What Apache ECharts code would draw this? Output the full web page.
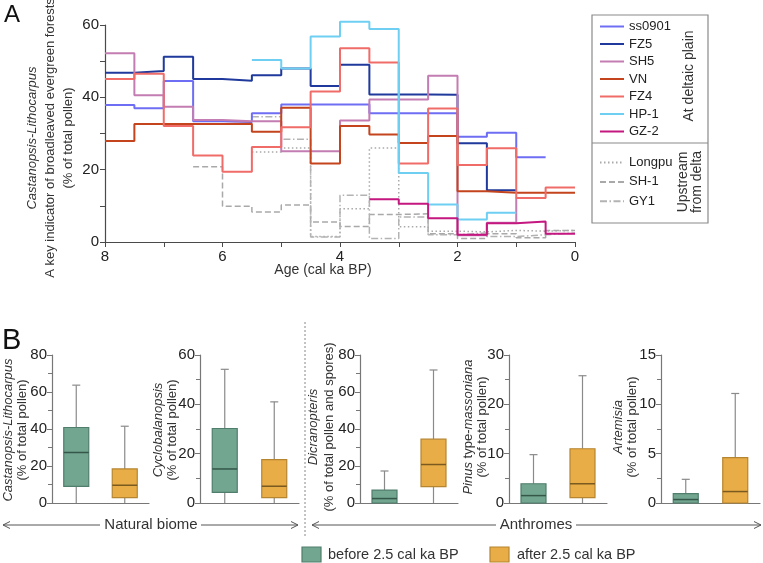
<!DOCTYPE html>
<html><head><meta charset="utf-8">
<script src="https://cdn.jsdelivr.net/npm/echarts@6/dist/echarts.min.js"></script>
<style>html,body{margin:0;padding:0;background:#fff}#c{width:763px;height:563px}</style>
</head><body><div id="c"></div>
<script>
// ---------- Panel A data (values per 0.5-ka bin, from the start age towards 0) ----------
const ageTicks = [0, 2, 4, 6, 8];
const binWidth = 0.5;
const seriesNames = ['ss0901', 'FZ5', 'SH5', 'VN', 'FZ4', 'HP-1', 'GZ-2', 'Longpu', 'SH-1', 'GY1'];
const seriesStart = [8, 8, 8, 8, 8, 5.5, 3.5, 5.5, 6.5, 5.5];
const ss0901 = [37.9, 37.0, 44.5, 33.4, 33.2, 35.6, 38.0, 38.0, 38.0, 35.6, 35.6, 35.6, 29.1, 30.2, 23.4];
const FZ5    = [46.8, 47.3, 51.2, 45.1, 44.6, 46.1, 48.0, 43.1, 49.0, 40.8, 40.8, 40.7, 27.3, 14.3];
const SH5    = [52.2, 40.6, 37.4, 33.7, 33.4, 33.4, 25.1, 25.1, 33.6, 39.4, 39.4, 46.0, 1.9, 5.3, 12.2];
const VN     = [27.9, 32.6, 32.6, 32.6, 32.7, 30.5, 37.1, 21.7, 32.1, 29.7, 27.4, 29.3, 14.0, 13.6, 13.6, 13.6];
const FZ4    = [45.1, 46.5, 32.1, 23.9, 19.4, 26.3, 31.7, 41.6, 53.6, 49.6, 21.7, 36.9, 21.3, 25.9, 12.2, 15.1];
const HP1    = [50.3, 48.0, 56.8, 60.9, 58.9, 19.1, 10.4, 6.2, 8.1];
const GZ2    = [11.8, 10.6, 6.6, 2.0, 5.2, 5.7, 2.3];
const Longpu = [24.9, 26.0, 1.5, 9.2, 26.0, 4.2, 3.0, 2.8, 3.2, 3.0, 3.2];
const SH1    = [20.8, 9.9, 8.3, 10.2, 5.5, 4.3, 7.6, 7.8, 2.3, 1.0, 2.3, 1.2, 3.2];
const GY1    = [34.6, 28.4, 1.4, 12.9, 1.0, 6.9, 2.0, 2.5, 1.5, 2.0, 2.5];
const seriesValues = [ss0901, FZ5, SH5, VN, FZ4, HP1, GZ2, Longpu, SH1, GY1];

// ---------- Panel B data: [min, Q1, median, Q3, max] ----------
const periodNames = ['before 2.5 cal ka BP', 'after 2.5 cal ka BP'];
const castanopsisBox     = [[0, 9.0, 27.3, 40.8, 63.7], [0, 2.9, 9.6, 18.4, 41.5]];
const cyclobalanopsisBox = [[0, 4.3, 13.8, 30.2, 54.2], [0, 2.2, 6.8, 17.6, 41.0]];
const dicranopterisBox   = [[0, 0, 2.4, 7.0, 17.3], [0, 8.9, 20.8, 34.5, 71.9]];
const pinusBox           = [[0, 0, 1.5, 3.9, 9.8], [0, 1.1, 3.9, 11.0, 25.8]];
const artemisiaBox       = [[0, 0, 0.35, 0.95, 2.4], [0, 0, 1.16, 4.6, 11.1]];
const boxSets = [castanopsisBox, cyclobalanopsisBox, dicranopterisBox, pinusBox, artemisiaBox];
const boxYMax = [80, 60, 80, 30, 15];
const boxYInterval = [20, 20, 20, 10, 5];

// ---------- styles ----------
const FONT = 'Arial, "Liberation Sans", Helvetica, sans-serif';
const lineColors = ['#6e6ef4', '#1f3a9c', '#c47db2', '#c3441d', '#ef6c69', '#6fcff3', '#c4177f', '#a9a9a9', '#a9a9a9', '#b3b3b3'];
const lineTypes = ['solid', 'solid', 'solid', 'solid', 'solid', 'solid', 'solid', [1.5, 2.5], [6, 3], [7, 2.5, 1.5, 2.5]];
const lineWidths = [2, 2, 2, 2, 2, 2, 2, 1.5, 1.5, 1.5];
const boxFill = ['#72a690', '#e9ad48'];
const boxStroke = ['#4f7e6c', '#b6852f'];
const boxMedian = ['#34574a', '#7a5a1e'];

function stepPoints(start, vals) {
  const pts = vals.map((v, i) => [+(start - i * binWidth).toFixed(2), v]);
  pts.push([+(start - vals.length * binWidth).toFixed(2), vals[vals.length - 1]]);
  return pts;
}

const axisCol = '#4a4a4a';
const grids = [{ left: 105, top: 25, width: 470, height: 217 }];
const xAxes = [{
  gridIndex: 0, type: 'value', min: 0, max: 8, interval: 2, inverse: true, position: 'bottom',
  axisLine: { show: true, onZero: false, lineStyle: { color: axisCol, width: 1.2 } },
  axisTick: { show: true, length: 5, lineStyle: { color: axisCol } },
  minorTick: { show: true, splitNumber: 2, length: 5, lineStyle: { color: axisCol } },
  splitLine: { show: false },
  axisLabel: { fontSize: 15, color: '#222', fontFamily: FONT, margin: 7 }
}];
const yAxes = [{
  gridIndex: 0, type: 'value', min: 0, max: 60, interval: 20, position: 'left',
  axisLine: { show: true, onZero: false, lineStyle: { color: axisCol, width: 1.2 } },
  axisTick: { show: true, length: 5, lineStyle: { color: axisCol } },
  minorTick: { show: true, splitNumber: 2, length: 5, lineStyle: { color: axisCol } },
  splitLine: { show: false },
  axisLabel: { fontSize: 15, color: '#222', fontFamily: FONT, margin: 6 }
}];

const series = seriesNames.map((name, i) => ({
  name, type: 'line', xAxisIndex: 0, yAxisIndex: 0,
  data: stepPoints(seriesStart[i], seriesValues[i]),
  step: 'end', symbol: 'none', showSymbol: false, clip: false,
  lineStyle: { color: lineColors[i], width: lineWidths[i], type: lineTypes[i] },
  itemStyle: { color: lineColors[i] },
  z: i >= 7 ? 1 : 3,
  animation: false
}));

const boxGridLeft = [52, 200, 360, 509, 661];
const boxGridWidth = [97, 99, 98, 98, 99];
boxSets.forEach((set, k) => {
  const gi = k + 1;
  grids.push({ left: boxGridLeft[k], top: 355, width: boxGridWidth[k], height: 148 });
  xAxes.push({
    gridIndex: gi, type: 'category', data: periodNames,
    axisLine: { show: true, lineStyle: { color: '#777', width: 1.2 } },
    axisTick: { show: false }, axisLabel: { show: false }, splitLine: { show: false }
  });
  yAxes.push({
    gridIndex: gi, type: 'value', min: 0, max: boxYMax[k], interval: boxYInterval[k],
    axisLine: { show: true, lineStyle: { color: '#777', width: 1.2 } },
    axisTick: { show: true, length: 5, lineStyle: { color: '#777' } },
    minorTick: { show: true, splitNumber: 2, length: 4, lineStyle: { color: '#777' } },
    splitLine: { show: false },
    axisLabel: { fontSize: 15, color: '#222', fontFamily: FONT, margin: 5 }
  });
  series.push({
    type: 'custom', xAxisIndex: gi, yAxisIndex: gi,
    data: set.map((b, j) => [j].concat(b)),
    encode: { x: 0, y: [1, 2, 3, 4, 5] },
    animation: false,
    renderItem: function (params, api) {
      const j = api.value(0);
      const pMin = api.coord([j, api.value(1)]);
      const pQ1 = api.coord([j, api.value(2)]);
      const pMed = api.coord([j, api.value(3)]);
      const pQ3 = api.coord([j, api.value(4)]);
      const pMax = api.coord([j, api.value(5)]);
      const x = pMin[0], w = 25, cap = 8;
      const ws = { stroke: '#8a8a8a', lineWidth: 1.2 };
      return {
        type: 'group', children: [
          { type: 'line', shape: { x1: x, y1: pQ3[1], x2: x, y2: pMax[1] }, style: ws },
          { type: 'line', shape: { x1: x - cap / 2, y1: pMax[1], x2: x + cap / 2, y2: pMax[1] }, style: ws },
          { type: 'line', shape: { x1: x, y1: pQ1[1], x2: x, y2: pMin[1] }, style: ws },
          { type: 'rect', shape: { x: x - w / 2, y: pQ3[1], width: w, height: pQ1[1] - pQ3[1] },
            style: { fill: boxFill[j], stroke: boxStroke[j], lineWidth: 1.2 } },
          { type: 'line', shape: { x1: x - w / 2, y1: pMed[1], x2: x + w / 2, y2: pMed[1] },
            style: { stroke: boxMedian[j], lineWidth: 1.5 } }
        ]
      };
    }
  });
});

function rotText(x, y, text, size, extra) {
  return Object.assign({
    type: 'text', x, y, rotation: Math.PI / 2,
    style: Object.assign({
      text, fontSize: size, fontFamily: FONT, fill: '#333',
      align: 'center', verticalAlign: 'middle', lineHeight: 15,
      rich: { i: { fontStyle: 'italic', fontSize: size, fontFamily: FONT, fill: '#333' } }
    }, extra || {})
  });
}
function arrow(x1, x2, y) {
  return [
    { type: 'line', shape: { x1, y1: y, x2, y2: y }, style: { stroke: '#555', lineWidth: 1 } }
  ];
}
function arrowHeads(xl, xr, y) {
  return [
    { type: 'polyline', shape: { points: [[xl + 7, y - 3.5], [xl, y], [xl + 7, y + 3.5]] }, style: { stroke: '#555', lineWidth: 1, fill: null } },
    { type: 'polyline', shape: { points: [[xr - 7, y - 3.5], [xr, y], [xr - 7, y + 3.5]] }, style: { stroke: '#555', lineWidth: 1, fill: null } }
  ];
}

const graphics = [
  { type: 'text', x: 4, y: 3, style: { text: 'A', fontSize: 24, fontFamily: FONT, fill: '#111' } },
  { type: 'text', x: 2, y: 326, style: { text: 'B', fontSize: 29, fontFamily: FONT, fill: '#111' } },
  rotText(50, 138, '{i|Castanopsis-Lithocarpus}\nA key indicator of broadleaved evergreen forests\n(% of total pollen)', 13, { lineHeight: 18 }),
  { type: 'text', x: 323, y: 270, style: { text: 'Age (cal ka BP)', fontSize: 14, fontFamily: FONT, fill: '#333', align: 'center', verticalAlign: 'middle' } },
  // legend frame
  { type: 'rect', shape: { x: 592, y: 15, width: 116, height: 208 }, style: { fill: null, stroke: '#8a8a8a', lineWidth: 1.2 } },
  { type: 'line', shape: { x1: 592, y1: 143, x2: 708, y2: 143 }, style: { stroke: '#8a8a8a', lineWidth: 1.2 } },
  rotText(689, 76, 'At deltaic plain', 14),
  rotText(690, 182, 'Upstream\nfrom delta', 14, { lineHeight: 14 }),
  // panel B axis titles
  rotText(15, 430, '{i|Castanopsis-Lithocarpus}\n(% of total pollen)', 13, { lineHeight: 14 }),
  rotText(165.5, 430, '{i|Cyclobalanopsis}\n(% of total pollen)', 13, { lineHeight: 14 }),
  rotText(321.5, 427, '{i|Dicranopteris}\n(% of total pollen and spores)', 13, { lineHeight: 16 }),
  rotText(475, 427, '{i|Pinus} type-{i|massoniana}\n(% of total pollen)', 13, { lineHeight: 14 }),
  rotText(625, 427, '{i|Artemisia}\n(% of total pollen)', 13, { lineHeight: 14 }),
  // divider
  { type: 'line', shape: { x1: 305, y1: 322, x2: 305, y2: 537 }, style: { stroke: '#888', lineWidth: 1, lineDash: [2, 2] } },
  // biome arrows
  ...arrow(3, 100, 525), ...arrow(201, 298, 525), ...arrowHeads(3, 298, 525),
  { type: 'text', x: 151, y: 525, style: { text: 'Natural biome', fontSize: 15, fontFamily: FONT, fill: '#333', align: 'center', verticalAlign: 'middle' } },
  ...arrow(312, 496, 525), ...arrow(576, 761, 525), ...arrowHeads(312, 761, 525),
  { type: 'text', x: 536, y: 525, style: { text: 'Anthromes', fontSize: 15, fontFamily: FONT, fill: '#333', align: 'center', verticalAlign: 'middle' } },
  // bottom legend
  { type: 'rect', shape: { x: 302, y: 547, width: 19, height: 15 }, style: { fill: boxFill[0], stroke: boxStroke[0], lineWidth: 1.2 } },
  { type: 'text', x: 328, y: 555, style: { text: periodNames[0], fontSize: 14.5, fontFamily: FONT, fill: '#333', verticalAlign: 'middle' } },
  { type: 'rect', shape: { x: 490, y: 547, width: 19, height: 15 }, style: { fill: boxFill[1], stroke: boxStroke[1], lineWidth: 1.2 } },
  { type: 'text', x: 517, y: 555, style: { text: periodNames[1], fontSize: 14.5, fontFamily: FONT, fill: '#333', verticalAlign: 'middle' } }
];

const chart = echarts.init(document.getElementById('c'));
chart.setOption({
  animation: false,
  backgroundColor: '#fff',
  grid: grids,
  xAxis: xAxes,
  yAxis: yAxes,
  legend: [
    { data: seriesNames.slice(0, 7), left: 599, top: 20, padding: 0, orient: 'vertical', itemWidth: 24, itemHeight: 13, itemGap: 4.5,
      selectedMode: false, itemStyle: { opacity: 0 }, textStyle: { fontSize: 13, color: '#222', fontFamily: FONT } },
    { data: seriesNames.slice(7), left: 599, top: 156, padding: 0, orient: 'vertical', itemWidth: 24, itemHeight: 13, itemGap: 6.4,
      selectedMode: false, itemStyle: { opacity: 0 }, textStyle: { fontSize: 13, color: '#222', fontFamily: FONT } }
  ],
  graphic: graphics,
  series: series
});
</script>
</body></html>
